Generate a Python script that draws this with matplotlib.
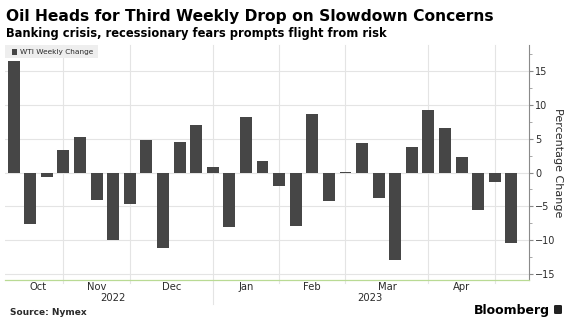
import matplotlib
matplotlib.use("Agg")
import matplotlib.pyplot as plt
import matplotlib.transforms as mtransforms
from matplotlib.patches import Rectangle, FancyBboxPatch
import numpy as np
import pandas as pd

# Weekly WTI percentage change, weeks ending Friday
week_ending = pd.date_range("2022-10-07", periods=31, freq="W-FRI")
wti_change = [
    16.5, -7.6, -0.7, 3.3, 5.3, -4.0, -10.0, -4.7, 4.85, -11.2,
    4.55, 7.0, 0.85, -8.1, 8.15, 1.75, -2.0, -7.85, 8.6, -4.2,
    0.1, 4.3, -3.75, -12.9, 3.7, 9.2, 6.6, 2.25, -5.6, -1.35, -10.4,
]
month_labels = ["Oct", "Nov", "Dec", "Jan", "Feb", "Mar", "Apr"]
year_labels = ["2022", "2023"]
y_ticks = [-15, -10, -5, 0, 5, 10, 15]

title = "Oil Heads for Third Weekly Drop on Slowdown Concerns"
subtitle = "Banking crisis, recessionary fears prompts flight from risk"
series_name = "WTI Weekly Change"
y_label = "Percentage Change"
source = "Source: Nymex"

BAR = "#464646"
GRID = "#e4e4e4"
TEXT = "#2b2b2b"
GREEN = "#b9da94"

W, H = 570, 325
fig = plt.figure(figsize=(W / 100, H / 100), dpi=100)
fig.patch.set_facecolor("white")

left, right, top, bottom = 5, 529, 45, 280
ax = fig.add_axes([left / W, 1 - bottom / H, (right - left) / W, (bottom - top) / H])

x = np.arange(len(wti_change))
ax.bar(x, wti_change, width=0.72, color=BAR, zorder=3, linewidth=0)

ax.set_xlim(-0.52, len(wti_change) + 0.06)
ax.set_ylim(-15.85, 18.8)

# last bar of each month marks the month boundaries
months = week_ending.to_period("M")
month_end = [int(np.where(months == m)[0].max()) for m in months.unique()]
boundaries = [0] + month_end[: len(month_labels)]
year_end = int(np.where(week_ending.year == 2022)[0].max())

# horizontal grid
for yv in y_ticks:
    ax.axhline(yv, color=GRID, lw=0.8, zorder=1)

trans = mtransforms.blended_transform_factory(ax.transData, ax.transAxes)
for b in boundaries[1:]:
    ax.plot([b, b], [1, -0.012], transform=trans, color=GRID, lw=0.8,
            zorder=1, clip_on=False)
ax.plot([year_end, year_end], [-0.012, -0.1], transform=trans, color=GRID,
        lw=0.8, zorder=1, clip_on=False)

# month and year labels
for i, lab in enumerate(month_labels):
    xc = (boundaries[i] + boundaries[i + 1]) / 2
    ax.text(xc, -0.03, lab, transform=trans, ha="center", va="center",
            fontsize=7.2, color=TEXT)
year_spans = [(0, year_end), (year_end, len(wti_change))]
for (a, b), lab in zip(year_spans, year_labels):
    ax.text((a + b) / 2, -0.078, lab, transform=trans, ha="center",
            va="center", fontsize=7.2, color=TEXT)

ax.set_xticks([])
for s in ["top", "left"]:
    ax.spines[s].set_visible(False)
ax.spines["bottom"].set_color(GREEN)
ax.spines["bottom"].set_linewidth(0.9)
ax.spines["right"].set_color("#8a8a8a")
ax.spines["right"].set_linewidth(0.8)

ax.yaxis.tick_right()
ax.yaxis.set_label_position("right")
ax.set_yticks(y_ticks)
ax.set_yticks(np.arange(-15, 18, 2.5), minor=True)
ax.tick_params(axis="y", which="major", length=3, width=0.8, color="#8a8a8a",
               labelsize=7, labelcolor=TEXT, pad=1.5)
ax.tick_params(axis="y", which="minor", length=2, width=0.6, color="#9a9a9a")
ax.set_ylabel(y_label, rotation=270, fontsize=8, color=TEXT, labelpad=5)

# legend chip
fig.patches.append(Rectangle((5 / W, 1 - 58 / H), 93 / W, 13 / H,
                             transform=fig.transFigure, facecolor="#eeeeee",
                             edgecolor="none", zorder=5))
fig.patches.append(Rectangle((12 / W, 1 - 54.5 / H), 5 / W, 5 / H,
                             transform=fig.transFigure, facecolor=BAR,
                             edgecolor="none", zorder=6))
fig.text(19.5 / W, 1 - 52 / H, series_name, fontsize=5.3, color=TEXT,
         va="center", ha="left", zorder=7)

# headings
fig.text(6.5 / W, 1 - 21.5 / H, title, fontsize=11.2, fontweight="bold",
         color="black", va="baseline", ha="left")
fig.text(6.5 / W, 1 - 36.5 / H, subtitle, fontsize=8.3, fontweight="bold",
         color="black", va="baseline", ha="left")

# footer
fig.text(10 / W, 1 - 315 / H, source, fontsize=6.5, fontweight="bold",
         color=TEXT, va="baseline", ha="left")
fig.text(550 / W, 1 - 314 / H, "Bloomberg", fontsize=9, fontweight="bold",
         color="black", va="baseline", ha="right")
fig.patches.append(FancyBboxPatch((554 / W, 1 - 314 / H), 8 / W, 9 / H,
                                  boxstyle="round,pad=0,rounding_size=0.003",
                                  transform=fig.transFigure,
                                  facecolor="#222222", edgecolor="none"))

fig.savefig("out.png", dpi=100, facecolor="white")
